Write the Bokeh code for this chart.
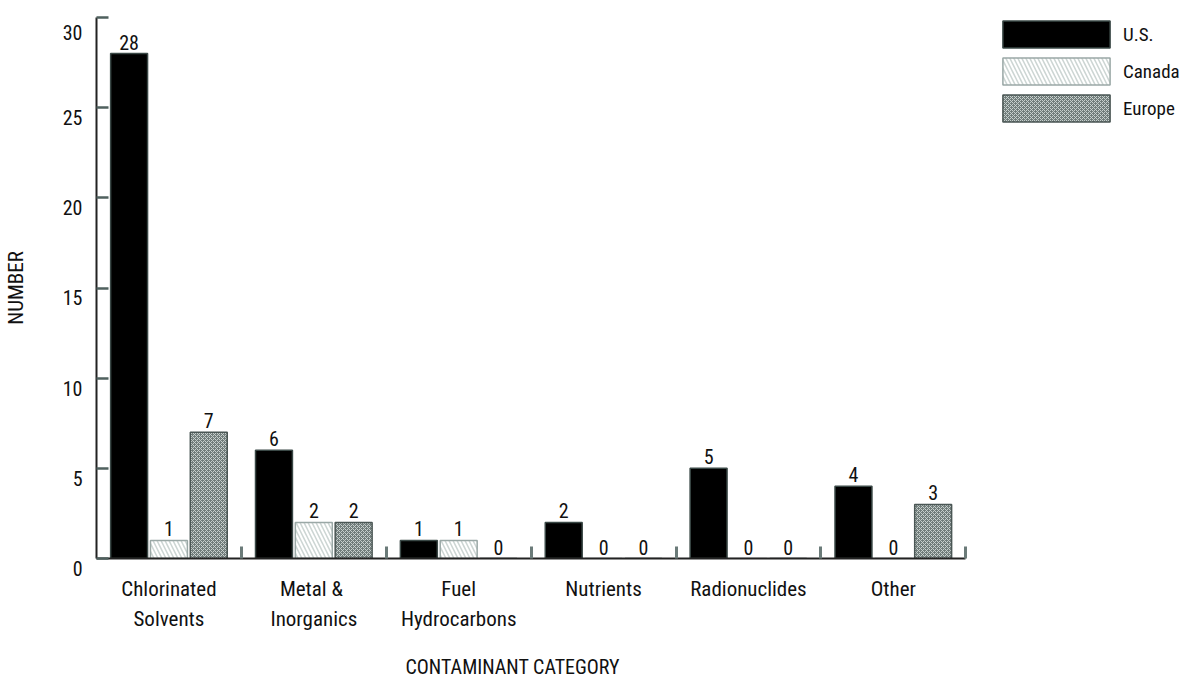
from bokeh.plotting import figure
from bokeh.models import Range1d, FixedTicker, Legend, LegendItem, ColumnDataSource, Title
from bokeh.core.properties import value
from bokeh.embed import file_html
from bokeh.resources import INLINE

# ---- data ----
categories = ["Chlorinated\nSolvents", "Metal  &\nInorganics", "Fuel\nHydrocarbons",
              "Nutrients", "Radionuclides", "Other"]
series = ["U.S.", "Canada", "Europe"]
us = [28, 6, 1, 2, 5, 4]
canada = [1, 2, 1, 0, 0, 0]
europe = [7, 2, 0, 0, 0, 3]
y_ticks = [0, 5, 10, 15, 20, 25, 30]
x_title = "CONTAMINANT  CATEGORY"
y_title = "NUMBER"

FONT = "'Roboto Condensed', 'Liberation Sans', sans-serif"
TXT = "#111111"

n = len(categories)
# frame spans past the last category so the legend can sit inside it (top right)
x_end = n + 1.503
p = figure(width=1183, height=680, x_range=Range1d(0, x_end), y_range=Range1d(0, 30),
           output_backend="svg", toolbar_location=None,
           min_border_left=95, min_border_right=0, min_border_top=17, min_border_bottom=122)
p.xgrid.visible = False
p.ygrid.visible = False
p.outline_line_color = None
p.background_fill_color = "white"

offsets = [-0.275, 0.0, 0.275]
bar_w = 0.255
styles = [
    dict(fill_color="black", line_color="#3a4846", line_width=1.5),
    dict(fill_color="white", line_color="#9aa8a6", line_width=1.5,
         hatch_pattern="\\", hatch_color="#ccd5d3", hatch_scale=8, hatch_weight=1.5),
    dict(fill_color="#707c7a", line_color="#4a5654", line_width=1.5,
         hatch_pattern="x", hatch_color="#c8d0ce", hatch_scale=4, hatch_weight=1),
]
renderers = []
for vals, off, st in zip([us, canada, europe], offsets, styles):
    xs = [i + 0.5 + off for i in range(n)]
    src = ColumnDataSource(dict(x=xs, top=vals, lab=[str(v) for v in vals]))
    r = p.vbar(x="x", top="top", width=bar_w, bottom=0, source=src, **st)
    renderers.append(r)
    p.text(x="x", y="top", text="lab", source=src, text_align="center",
           text_baseline="bottom", y_offset=-4, text_color=TXT,
           text_font=value(FONT), text_font_size="20px")

legend = Legend(items=[LegendItem(label=s, renderers=[r]) for s, r in zip(series, renderers)],
                location=(893, 433), orientation="vertical",
                glyph_width=134, glyph_height=34, spacing=3, padding=0, margin=0,
                label_standoff=0, label_text_font=FONT, label_text_font_size="19px",
                label_text_color=TXT, border_line_color=None, background_fill_alpha=0)
p.add_layout(legend, "center")

# x axis
xa = p.xaxis[0]
xa.bounds = (0, n)
centers = [i + 0.5 for i in range(n)]
bounds = [i + 1 for i in range(n)]
xa.ticker = FixedTicker(ticks=centers, minor_ticks=bounds)
xa.major_label_overrides = {c: lab for c, lab in zip(centers, categories)}
xa.major_tick_line_color = None
xa.major_tick_in = 0
xa.major_tick_out = 0
xa.minor_tick_in = 12
xa.minor_tick_out = 0
xa.minor_tick_line_width = 3
xa.minor_tick_line_color = "#6b7b79"
xa.axis_line_width = 2
xa.axis_line_color = "#222222"
xa.major_label_standoff = 18
xa.major_label_text_font = FONT
xa.major_label_text_font_size = "21px"
xa.major_label_text_line_height = 1.27
xa.major_label_text_color = TXT

xt = Title(text="\n" + x_title, align="left", offset=309, standoff=0,
           text_font=FONT, text_font_size="20px", text_font_style="normal",
           text_line_height=0.85, text_color=TXT)
p.add_layout(xt, "below")

# y axis
ya = p.yaxis[0]
ya.ticker = FixedTicker(ticks=y_ticks)
ya.major_label_overrides = {t: "\n" + str(t) for t in y_ticks}
ya.major_tick_in = 12
ya.major_tick_out = 0
ya.major_tick_line_width = 2.5
ya.major_tick_line_color = "#4f605e"
ya.minor_tick_line_color = None
ya.axis_line_width = 2
ya.axis_line_color = "#222222"
ya.major_label_standoff = 14
ya.major_label_text_font = FONT
ya.major_label_text_font_size = "20px"
ya.major_label_text_line_height = 0.87
ya.major_label_text_color = TXT
ya.axis_label = y_title
ya.axis_label_standoff = 32
ya.axis_label_text_font = FONT
ya.axis_label_text_font_size = "21px"
ya.axis_label_text_font_style = "normal"
ya.axis_label_text_color = TXT

open("out.html", "w").write(file_html(p, INLINE))
